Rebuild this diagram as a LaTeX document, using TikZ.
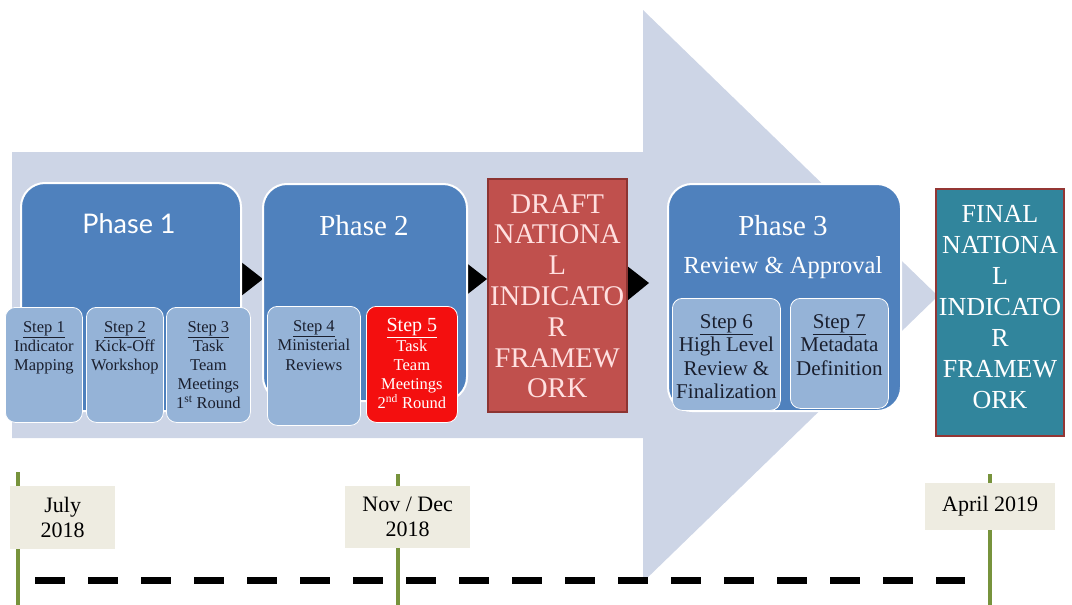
\documentclass[tikz,border=0pt]{standalone}
\usepackage{fontspec}
\setmainfont{Liberation Serif}
\newfontfamily\gill{Lato}
\definecolor{arrowbg}{HTML}{CDD5E6}
\definecolor{phaseblue}{HTML}{4F81BD}
\definecolor{stepblue}{HTML}{95B3D7}
\definecolor{stepred}{HTML}{F40F0F}
\definecolor{draftred}{HTML}{C0504D}
\definecolor{draftedge}{HTML}{8C3432}
\definecolor{finalteal}{HTML}{31859C}
\definecolor{finaledge}{HTML}{943634}
\definecolor{tlgreen}{HTML}{77933C}
\definecolor{tlbeige}{HTML}{EEECE1}
\definecolor{steptxt}{HTML}{1A1F2E}
\tikzset{
  phasebox/.style={draw=white, line width=2pt, fill=phaseblue, rounded corners=24pt},
  stepbox/.style={draw=white, line width=0.8pt, fill=stepblue, rounded corners=10pt},
  redbox/.style={draw=white, line width=0.8pt, fill=stepred, rounded corners=10pt},
  steptext/.style={align=center, anchor=north, inner sep=0pt, text=steptxt, font=\fontsize{16.5}{19.2}\selectfont},
  bigtext/.style={align=center, inner sep=0pt, text=white},
  tick/.style={draw=tlgreen, line width=4pt},
  datebox/.style={fill=tlbeige, inner sep=0pt, align=center, font=\fontsize{22}{25}\selectfont},
  blacktri/.style={fill=black},
}
\begin{document}
\begin{tikzpicture}[x=1pt,y=-1pt]
\useasboundingbox (0,0) rectangle (1072,605);
% big arrow
\fill[arrowbg] (12,152) -- (643,152) -- (643,10) -- (938,296) -- (643,582) -- (643,438) -- (12,438) -- cycle;
% black triangles
\fill[blacktri] (236,258) -- (263,279) -- (236,300) -- cycle;
\fill[blacktri] (460,258) -- (487,279) -- (460,300) -- cycle;
\fill[blacktri] (622,262) -- (649,283) -- (622,305) -- cycle;
% Phase 1
\node[phasebox, minimum width=220pt, minimum height=228pt, anchor=north west] (p1) at (20,182) {};
\node[text=white, font=\gill\fontsize{27}{30}\selectfont] (p1t) at (129,224) {Phase 1};
% Phase 2
\node[phasebox, minimum width=204pt, minimum height=217pt, anchor=north west] (p2) at (262,183) {};
\node[text=white, font=\fontsize{29}{30}\selectfont] (p2t) at (364,226) {Phase 2};
% Steps 1-3
\node[stepbox, minimum width=77pt, minimum height=115pt, anchor=north west] (s1) at (5,307) {};
\node[steptext] (s1t) at ([yshift=-14pt]s1.north) {\underline{Step 1}\\Indicator\\Mapping};
\node[stepbox, minimum width=77pt, minimum height=115pt, anchor=north west] (s2) at (86,307) {};
\node[steptext] (s2t) at ([yshift=-14pt]s2.north) {\underline{Step 2}\\Kick-Off\\Workshop};
\node[stepbox, minimum width=84pt, minimum height=115pt, anchor=north west] (s3) at (166,307) {};
\node[steptext] (s3t) at ([yshift=-14pt]s3.north) {\underline{Step 3}\\Task\\Team\\Meetings\\1\textsuperscript{st} Round};
% Steps 4-5
\node[stepbox, minimum width=93pt, minimum height=119pt, anchor=north west] (s4) at (267,306) {};
\node[steptext] (s4t) at ([yshift=-14.5pt]s4.north) {\underline{Step 4}\\Ministerial\\Reviews};
\node[redbox, minimum width=91pt, minimum height=116pt, anchor=north west] (s5) at (366,306) {};
\node[steptext, text=white] (s5t) at ([yshift=-12.5pt]s5.north) {{\fontsize{20}{19.7}\selectfont\underline{Step 5}}\\Task\\Team\\Meetings\\2\textsuperscript{nd} Round};
% Draft box
\node[draw=draftedge, line width=1.5pt, fill=draftred, minimum width=139pt, minimum height=233pt, anchor=north west] (draft) at (487,178) {};
\node[bigtext, text=white!88!red, font=\fontsize{28.5}{30.8}\selectfont] (draftt) at ([yshift=-1pt]draft.center) {DRAFT\\NATIONA\\L\\INDICATO\\R\\FRAMEW\\ORK};
% Phase 3
\node[phasebox, minimum width=233pt, minimum height=227pt, anchor=north west] (p3) at (667,183) {};
\node[text=white, font=\fontsize{29}{30}\selectfont] (p3t) at (783,226) {Phase 3};
\node[text=white, font=\fontsize{24.5}{26}\selectfont] (p3s) at (783,268) {Review \& Approval};
\node[stepbox, minimum width=108pt, minimum height=112pt, anchor=north west] (s6) at (672,298) {};
\node[steptext, font=\fontsize{21}{23.5}\selectfont] (s6t) at ([yshift=-16pt]s6.north) {\underline{Step 6}\\High Level\\Review \&\\Finalization};
\node[stepbox, minimum width=98pt, minimum height=110pt, anchor=north west] (s7) at (790,298) {};
\node[steptext, font=\fontsize{21}{23.5}\selectfont] (s7t) at ([yshift=-16pt]s7.north) {\underline{Step 7}\\Metadata\\Definition};
% Final box
\node[draw=finaledge, line width=2pt, fill=finalteal, minimum width=128pt, minimum height=247pt, anchor=north west] (final) at (935,188) {};
\node[bigtext, font=\fontsize{26}{31}\selectfont] (finalt) at ([yshift=5pt]final.center) {FINAL\\NATIONA\\L\\INDICATO\\R\\FRAMEW\\ORK};
% timeline
\coordinate (t1a) at (18,472); \coordinate (t1b) at (18,605);
\coordinate (t2a) at (398,474); \coordinate (t2b) at (398,605);
\coordinate (t3a) at (990,474); \coordinate (t3b) at (990,605);
\draw[tick] (t1a) -- (t1b);
\draw[tick] (t2a) -- (t2b);
\draw[tick] (t3a) -- (t3b);
\node[datebox, minimum width=105pt, minimum height=63pt, anchor=north west] (d1) at (10,486) {};
\node[datebox] (d1t) at (d1.center) {July\\2018};
\node[datebox, minimum width=125pt, minimum height=62pt, anchor=north west] (d2) at (345,486) {};
\node[datebox] (d2t) at (d2.center) {Nov / Dec\\2018};
\node[datebox, minimum width=130pt, minimum height=47pt, anchor=north west] (d3) at (925,483) {};
\node[datebox] (d3t) at (d3.center) {April 2019};
\coordinate (dl1) at (35,580); \coordinate (dl2) at (965,580);
\draw[line width=7pt, dash pattern=on 30pt off 23pt] (dl1) -- (dl2);
\end{tikzpicture}
\end{document}
